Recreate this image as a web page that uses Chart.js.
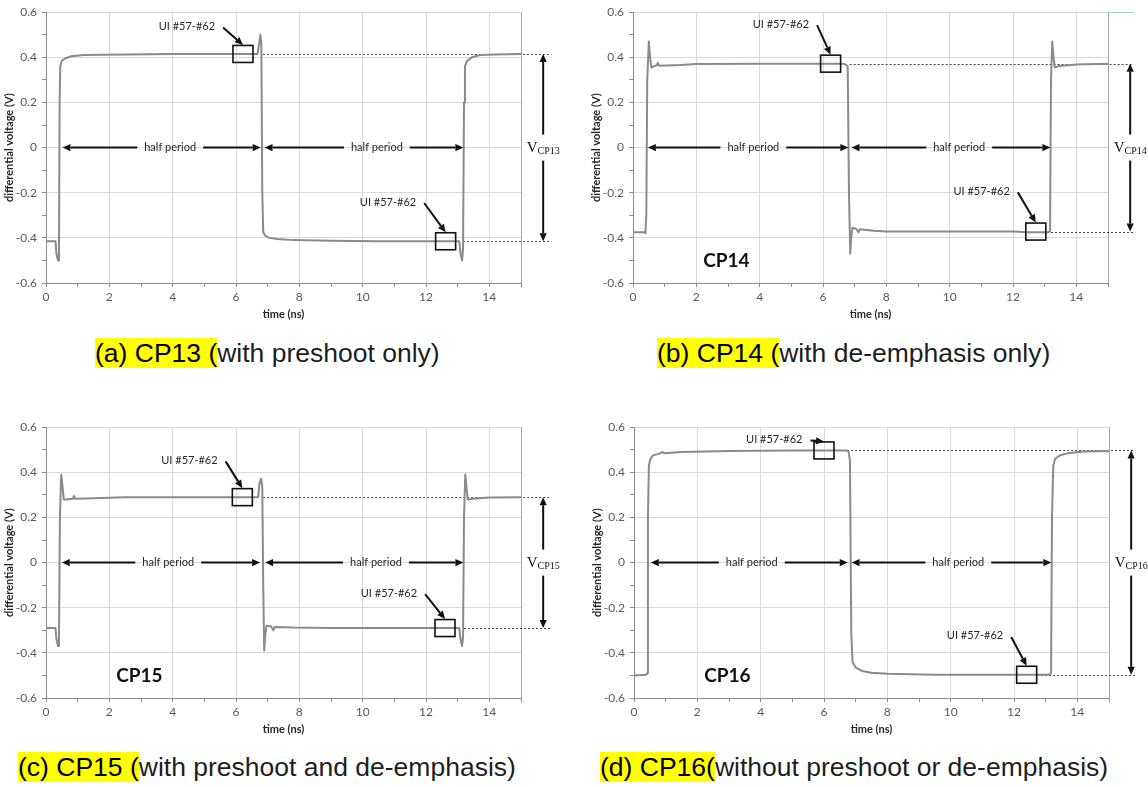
<!DOCTYPE html>
<html>
<head>
<meta charset="utf-8">
<script src="https://cdn.jsdelivr.net/npm/chart.js@4.4.1/dist/chart.umd.min.js"></script>
<style>
  body { margin:0; background:#fff; width:1148px; height:787px; overflow:hidden; position:relative; font-family:"Liberation Sans", Arial, sans-serif; }
  .panel { position:absolute; }
  .cap { position:absolute; font-size:26.5px; line-height:30px; color:#1e1e1e; white-space:nowrap; }
  .cap span { background:#ffff00; color:#000; }
</style>
</head>
<body>
<div class="panel" style="left:0;top:0;width:574px;height:330px"><canvas id="cp13"></canvas></div>
<div class="panel" style="left:587px;top:0;width:561px;height:330px"><canvas id="cp14"></canvas></div>
<div class="panel" style="left:0;top:415px;width:574px;height:330px"><canvas id="cp15"></canvas></div>
<div class="panel" style="left:588px;top:415px;width:560px;height:330px"><canvas id="cp16"></canvas></div>

<div class="cap" style="left:95px;top:338px"><span>(a) CP13 (</span>with preshoot only)</div>
<div class="cap" style="left:657px;top:338px"><span>(b) CP14 (</span>with de-emphasis only)</div>
<div class="cap" style="left:18px;top:752px"><span>(c) CP15 (</span>with preshoot and de-emphasis)</div>
<div class="cap" style="left:600px;top:752px"><span>(d) CP16(</span>without preshoot or de-emphasis)</div>

<script>
// axis ticks (minor ticks every 1 ns / 0.1 V, labels on the even ones)
const xTicks = [0,1,2,3,4,5,6,7,8,9,10,11,12,13,14,15];
const yTicks = [-0.6,-0.5,-0.4,-0.3,-0.2,-0.1,0,0.1,0.2,0.3,0.4,0.5,0.6];

// CP13 - preshoot only
const cp13T = [0,0.30,0.33,0.38,0.41,0.43,0.45,0.50,0.60,0.80,1.20,2.5,4.0,6.68,6.72,6.77,6.80,6.83,6.86,6.92,7.05,7.3,7.8,9.0,10.5,13.05,13.09,13.14,13.17,13.20,13.23,13.30,13.45,13.7,14.2,15];
const cp13V = [-0.415,-0.415,-0.47,-0.50,-0.45,0.20,0.36,0.385,0.395,0.405,0.41,0.413,0.415,0.415,0.45,0.50,0.46,-0.20,-0.375,-0.39,-0.40,-0.405,-0.41,-0.413,-0.415,-0.415,-0.47,-0.50,-0.45,0.20,0.36,0.385,0.40,0.41,0.413,0.415];

// CP14 - de-emphasis only
const cp14T = [0,0.36,0.39,0.42,0.45,0.50,0.54,0.58,0.65,0.75,0.78,0.82,1.5,2.0,4.0,6.60,6.72,6.78,6.82,6.86,6.89,6.93,7.05,7.12,7.16,7.6,8.0,12.0,12.5,13.12,13.17,13.20,13.24,13.28,13.32,13.45,14.0,15];
const cp14V = [-0.375,-0.375,-0.38,-0.30,0.30,0.47,0.40,0.355,0.36,0.365,0.375,0.363,0.366,0.37,0.372,0.372,0.368,0.36,-0.20,-0.47,-0.40,-0.355,-0.36,-0.375,-0.362,-0.368,-0.372,-0.372,-0.375,-0.375,-0.37,0.30,0.47,0.40,0.355,0.362,0.368,0.372];

// CP15 - preshoot and de-emphasis
const cp15T = [0,0.30,0.33,0.38,0.41,0.44,0.48,0.52,0.56,0.65,0.85,0.88,0.92,1.5,2.5,6.70,6.74,6.79,6.83,6.86,6.89,6.92,6.96,7.1,7.18,7.22,7.8,9.0,13.05,13.09,13.14,13.17,13.20,13.24,13.28,13.32,13.5,14.0,15];
const cp15V = [-0.29,-0.29,-0.34,-0.37,-0.33,0.20,0.39,0.34,0.28,0.28,0.283,0.295,0.283,0.285,0.29,0.29,0.35,0.372,0.34,-0.10,-0.39,-0.33,-0.28,-0.282,-0.30,-0.285,-0.288,-0.29,-0.29,-0.34,-0.37,-0.33,0.20,0.39,0.33,0.28,0.283,0.288,0.29];

// CP16 - no preshoot, no de-emphasis
const cp16T = [0,0.38,0.42,0.44,0.47,0.52,0.60,0.80,0.90,0.95,1.5,3.0,5.0,6.72,6.78,6.82,6.86,6.90,7.0,7.2,7.5,8.0,9.5,13.12,13.17,13.20,13.24,13.3,13.45,13.7,14.2,15];
const cp16V = [-0.50,-0.497,-0.49,0.20,0.43,0.46,0.475,0.483,0.49,0.485,0.49,0.495,0.497,0.497,0.49,0.45,-0.30,-0.44,-0.465,-0.48,-0.488,-0.492,-0.497,-0.497,-0.49,0.20,0.43,0.46,0.475,0.485,0.492,0.495];

// UI #57-#62 boxes [t, V] and their labels [t, V]
const cp13Boxes = [[6.22,0.415],[12.62,-0.415]], cp13Notes = [[4.45,0.537],[10.8,-0.241]];
const cp14Boxes = [[6.24,0.372],[12.72,-0.372]], cp14Notes = [[4.67,0.547],[11.01,-0.194]];
const cp15Boxes = [[6.2,0.29],[12.6,-0.29]],     cp15Notes = [[4.53,0.453],[10.83,-0.135]];
const cp16Boxes = [[6.0,0.497],[12.4,-0.497]],   cp16Notes = [[4.43,0.546],[10.77,-0.325]];

// half period arrows [from t, to t, label t]
const cp13Half = [[0.52,6.78,3.92],[6.9,13.18,10.45]];
const cp14Half = [[0.47,6.8,3.8],[6.9,13.18,10.3]];
const cp15Half = [[0.5,6.76,3.86],[6.92,13.18,10.42]];
const cp16Half = [[0.53,6.75,3.72],[6.87,13.18,10.24]];

// dotted level lines [from t, to t, V]
const cp13Dash = [[6.85,15.96,0.415],[13.17,15.96,-0.415]];
const cp14Dash = [[6.84,15.81,0.372],[13.2,15.81,-0.372]];
const cp15Dash = [[6.86,15.95,0.29],[13.2,15.95,-0.29]];
const cp16Dash = [[6.35,15.82,0.497],[12.73,15.82,-0.497]];

// peak-to-peak arrow [t, high V, low V]
const cp13Vpp = [15.7,0.415,-0.415];
const cp14Vpp = [15.7,0.372,-0.372];
const cp15Vpp = [15.7,0.29,-0.29];
const cp16Vpp = [15.7,0.497,-0.497];

// in-plot name tags [t, V]
const tagPos = [2.95,-0.5];

Chart.defaults.font.family = 'Lato';

function arrow(ctx, x0, y0, x1, y1) {
  const a = Math.atan2(y1 - y0, x1 - x0), len = 8, half = 3.6;
  const bx = x1 - len * Math.cos(a), by = y1 - len * Math.sin(a);
  ctx.beginPath(); ctx.moveTo(x0, y0); ctx.lineTo(bx, by); ctx.stroke();
  ctx.beginPath(); ctx.moveTo(x1, y1);
  ctx.lineTo(bx + half * Math.sin(a), by - half * Math.cos(a));
  ctx.lineTo(bx - half * Math.sin(a), by + half * Math.cos(a));
  ctx.closePath(); ctx.fill();
}

function marks(spec) {
  return {
    id: 'marks',
    beforeDatasetsDraw(chart) {
      const {ctx, scales: {x, y}} = chart;
      ctx.save();
      ctx.strokeStyle = '#444'; ctx.lineWidth = 1; ctx.setLineDash([2, 2]);
      spec.dash.forEach(([t0, t1, v]) => {
        const py = Math.round(y.getPixelForValue(v)) + 0.5;
        ctx.beginPath(); ctx.moveTo(x.getPixelForValue(t0), py); ctx.lineTo(x.getPixelForValue(t1), py); ctx.stroke();
      });
      ctx.setLineDash([]);
      if (spec.stray) {
        const [t0, t1, v] = spec.stray, py = Math.round(y.getPixelForValue(v)) + 0.5;
        ctx.strokeStyle = '#a8c4de';
        ctx.beginPath(); ctx.moveTo(x.getPixelForValue(t0), py); ctx.lineTo(x.getPixelForValue(t1), py); ctx.stroke();
      }
      ctx.restore();
    },
    afterDatasetsDraw(chart) {
      const {ctx, scales: {x, y}} = chart;
      ctx.save();
      ctx.strokeStyle = '#111'; ctx.fillStyle = '#111';

      // boxes + labels with pointer arrows
      ctx.font = '11px Lato';
      ctx.textAlign = 'center'; ctx.textBaseline = 'middle';
      spec.boxes.forEach(([t, v], i) => {
        const cx = x.getPixelForValue(t), cy = y.getPixelForValue(v);
        ctx.lineWidth = 1.6;
        ctx.strokeRect(cx - 10, cy - 8.5, 20, 17);
        const [nt, nv] = spec.notes[i];
        const nx = x.getPixelForValue(nt), ny = y.getPixelForValue(nv);
        ctx.fillStyle = '#262626';
        ctx.fillText('UI #57-#62', nx, ny);
        const w = ctx.measureText('UI #57-#62').width;
        ctx.fillStyle = '#111'; ctx.lineWidth = 2;
        arrow(ctx, nx + w / 2 + 8, ny + 1, cx, cy - 9);
      });

      // half period arrows along 0 V
      const y0 = y.getPixelForValue(0);
      spec.half.forEach(([t0, t1, tc]) => {
        const xa = x.getPixelForValue(t0), xb = x.getPixelForValue(t1), xc = x.getPixelForValue(tc);
        const w = ctx.measureText('half period').width;
        ctx.fillStyle = '#262626';
        ctx.fillText('half period', xc, y0);
        ctx.fillStyle = '#111'; ctx.lineWidth = 2;
        arrow(ctx, xc - w / 2 - 7, y0, xa, y0);
        arrow(ctx, xc + w / 2 + 7, y0, xb, y0);
      });

      // peak-to-peak arrow with V_CPxx label
      const [vt, hi, lo] = spec.vpp;
      const vx = x.getPixelForValue(vt), yh = y.getPixelForValue(hi), yl = y.getPixelForValue(lo);
      ctx.lineWidth = 2;
      arrow(ctx, vx, y0 - 13, vx, yh);
      arrow(ctx, vx, y0 + 13, vx, yl);
      ctx.font = '15px "Liberation Serif"';
      const wv = ctx.measureText('V').width;
      ctx.font = '10px "Liberation Serif"';
      const ws = ctx.measureText(spec.name).width;
      const sx = vx - (wv + ws) / 2;
      ctx.textAlign = 'left';
      ctx.fillStyle = '#111';
      ctx.font = '15px "Liberation Serif"';
      ctx.fillText('V', sx, y0);
      ctx.font = '10px "Liberation Serif"';
      ctx.fillText(spec.name, sx + wv, y0 + 4);

      // name tag inside the plot
      if (spec.tag) {
        ctx.textAlign = 'center';
        ctx.font = 'bold 19px Lato';
        ctx.fillText(spec.name, x.getPixelForValue(spec.tag[0]), y.getPixelForValue(spec.tag[1]));
      }
      ctx.restore();
    }
  };
}

function makeChart(id, T, V, padRight, spec) {
  const pts = T.map((t, i) => ({x: t, y: V[i]}));
  return new Chart(document.getElementById(id), {
    type: 'line',
    data: { datasets: [{ data: pts, borderColor: '#8a8a8a', borderWidth: 2, pointRadius: 0, tension: 0, fill: false, borderJoinStyle: 'round', borderCapStyle: 'round' }] },
    options: {
      responsive: true, maintainAspectRatio: false, animation: false,
      layout: { padding: { left: 0, top: 9, right: padRight, bottom: 7 } },
      plugins: { legend: { display: false }, tooltip: { enabled: false } },
      scales: {
        x: {
          type: 'linear', min: 0, max: 15,
          afterBuildTicks: s => { s.ticks = xTicks.map(v => ({value: v})); },
          afterFit: s => { s.height = 40; },
          border: { color: '#8c8c8c' },
          grid: {
            color: c => !c.tick ? '#d9d9d9' : (c.tick.value === 15 ? '#a6a6a6' : (c.tick.value % 2 === 0 ? '#d9d9d9' : 'rgba(0,0,0,0)')),
            tickColor: '#8c8c8c', tickLength: 4
          },
          ticks: { autoSkip: false, maxRotation: 0, padding: 3, color: '#595959', font: { size: 12 },
                   callback: v => (v % 2 === 0 && v < 15) ? String(v) : '' },
          title: { display: true, text: 'time (ns)', color: '#262626', font: { size: 11, weight: 'bold' }, padding: { top: 2, bottom: 2 } }
        },
        y: {
          min: -0.6, max: 0.6,
          afterBuildTicks: s => { s.ticks = yTicks.map(v => ({value: v})); },
          afterFit: s => { s.width = 46; },
          border: { color: '#8c8c8c' },
          grid: {
            color: c => !c.tick ? '#d9d9d9' : (Math.round(c.tick.value * 10) % 2 === 0 ? '#d9d9d9' : 'rgba(0,0,0,0)'),
            tickColor: '#8c8c8c', tickLength: 4
          },
          ticks: { autoSkip: false, padding: 5, color: '#595959', font: { size: 12 },
                   callback: v => Math.round(v * 10) % 2 === 0 ? (v === 0 ? '0' : v.toFixed(1)) : '' },
          title: { display: true, text: 'differential voltage (V)', color: '#262626', font: { size: 11, weight: 'bold' }, padding: { top: 3, bottom: 0 } }
        }
      }
    },
    plugins: [marks(spec)]
  });
}

makeChart('cp13', cp13T, cp13V, 53, { name: 'CP13', boxes: cp13Boxes, notes: cp13Notes, half: cp13Half, dash: cp13Dash, vpp: cp13Vpp });
makeChart('cp14', cp14T, cp14V, 40, { name: 'CP14', boxes: cp14Boxes, notes: cp14Notes, half: cp14Half, dash: cp14Dash, vpp: cp14Vpp, tag: tagPos, stray: [15, 15.82, 0.6] });
makeChart('cp15', cp15T, cp15V, 53, { name: 'CP15', boxes: cp15Boxes, notes: cp15Notes, half: cp15Half, dash: cp15Dash, vpp: cp15Vpp, tag: tagPos });
makeChart('cp16', cp16T, cp16V, 39, { name: 'CP16', boxes: cp16Boxes, notes: cp16Notes, half: cp16Half, dash: cp16Dash, vpp: cp16Vpp, tag: tagPos });
</script>
</body>
</html>
